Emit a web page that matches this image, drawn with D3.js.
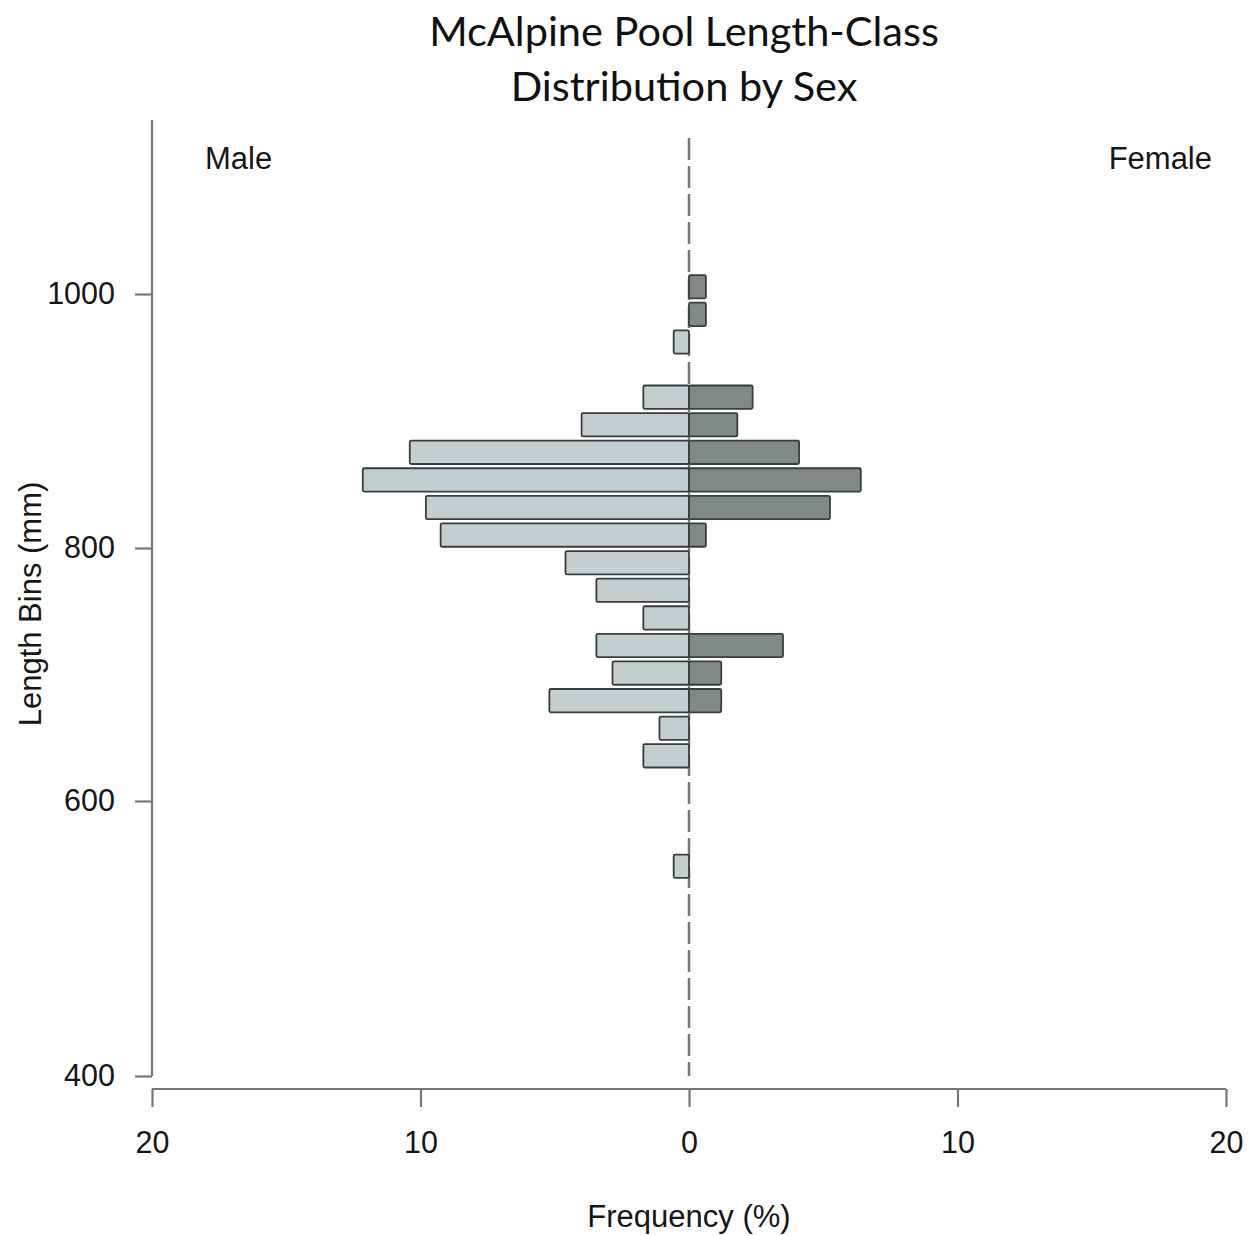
<!DOCTYPE html>
<html>
<head>
<meta charset="utf-8">
<script src="https://cdn.jsdelivr.net/npm/d3@7"></script>
<style>
  body { margin: 0; background: #fff; }
  svg { display: block; }
  .axis text { font-family: "Liberation Sans", Arial, sans-serif; font-size: 30.5px; fill: #161616; }
  .axis path, .axis line { stroke: #777; stroke-width: 2.2px; }
</style>
</head>
<body>
<svg width="1257" height="1236"></svg>
<script>
// length bins (lower bound, mm), top to bottom
var bins = [980, 960, 940, 920, 900, 880, 860, 840, 820, 800, 780,
            760, 740, 720, 700, 680, 660, 640, 620, 600, 580, 560];
// frequency (%) per bin
var male   = [0, 0, 0.57, 0, 1.7, 4.0, 10.4, 12.15, 9.8, 9.25, 4.6,
              3.45, 1.7, 3.45, 2.85, 5.2, 1.1, 1.7, 0, 0, 0, 0.57];
var female = [0.63, 0.63, 0, 0, 2.37, 1.8, 4.1, 6.4, 5.25, 0.63, 0,
              0, 0, 3.5, 1.2, 1.2, 0, 0, 0, 0, 0, 0];
var freqTicks = [-20, -10, 0, 10, 20];
var lengthTicks = [400, 600, 800, 1000];

var svg = d3.select('svg');

var x = d3.scaleLinear().domain([-20, 20]).range([152, 1226]);
// axis labels as printed on the original plot (not evenly spaced)
var yAxisScale = d3.scaleLinear().domain([400, 600, 800, 1000]).range([1076, 801, 548, 294]);
var yBand = d3.scaleBand().domain(bins).range([273, 880]).paddingInner(0.155).paddingOuter(0.077);

// title
var title = svg.append('text')
    .attr('text-anchor', 'middle')
    .style('font-family', 'Lato, "Open Sans", sans-serif')
    .style('font-size', '41.5px')
    .style('fill', '#111');
title.append('tspan').attr('x', 684).attr('y', 46).text('McAlpine Pool Length-Class');
title.append('tspan').attr('x', 684).attr('y', 101).text('Distribution by Sex');

// centre dashed line
svg.append('line')
    .attr('x1', x(0)).attr('x2', x(0))
    .attr('y1', 138).attr('y2', 1076)
    .attr('stroke', '#777')
    .attr('stroke-width', 2.5)
    .attr('stroke-dasharray', '22,6');

var rows = bins.map(function(b, i) {
    return { bin: b, male: male[i], female: female[i] };
});

var barGroup = svg.append('g');

barGroup.selectAll('rect.male')
    .data(rows.filter(function(d) { return d.male > 0; }))
    .enter()
    .append('rect')
    .attr('class', 'male')
    .attr('x', function(d) { return x(-d.male); })
    .attr('y', function(d) { return yBand(d.bin); })
    .attr('width', function(d) { return x(0) - x(-d.male); })
    .attr('height', yBand.bandwidth())
    .attr('rx', 1.5)
    .attr('fill', '#c3cfce')
    .attr('stroke', '#3a3d3c')
    .attr('stroke-width', 1.8);

barGroup.selectAll('rect.female')
    .data(rows.filter(function(d) { return d.female > 0; }))
    .enter()
    .append('rect')
    .attr('class', 'female')
    .attr('x', x(0))
    .attr('y', function(d) { return yBand(d.bin); })
    .attr('width', function(d) { return x(d.female) - x(0); })
    .attr('height', yBand.bandwidth())
    .attr('rx', 1.5)
    .attr('fill', '#808986')
    .attr('stroke', '#3a3d3c')
    .attr('stroke-width', 1.8);

// y axis
var yAxis = svg.append('g')
    .attr('class', 'axis')
    .attr('transform', 'translate(152,0)')
    .call(d3.axisLeft(yAxisScale).tickValues(lengthTicks).tickSize(17).tickSizeOuter(0).tickPadding(20)
        .tickFormat(d3.format('d')));
yAxis.select('.domain').remove();
yAxis.append('line')
    .attr('x1', 0).attr('x2', 0)
    .attr('y1', 120).attr('y2', yAxisScale(400));

// x axis
var xAxis = svg.append('g')
    .attr('class', 'axis')
    .attr('transform', 'translate(0,1089)')
    .call(d3.axisBottom(x).tickValues(freqTicks).tickSize(18).tickSizeOuter(0).tickPadding(24)
        .tickFormat(function(d) { return Math.abs(d); }));
xAxis.select('.domain').attr('d', 'M' + x(-20) + ',0H' + x(20));

// labels
var labelFont = '"Liberation Sans", Arial, sans-serif';
function label(t) {
    return t.style('font-family', labelFont).style('font-size', '31px').style('fill', '#161616');
}
label(svg.append('text')
    .attr('x', 205).attr('y', 169)
    .text('Male'));
label(svg.append('text')
    .attr('x', 1212).attr('y', 169)
    .attr('text-anchor', 'end')
    .text('Female'));
label(svg.append('text')
    .attr('x', 689).attr('y', 1227)
    .attr('text-anchor', 'middle')
    .text('Frequency (%)'));
label(svg.append('text')
    .attr('transform', 'translate(41,604) rotate(-90)')
    .attr('text-anchor', 'middle')
    .text('Length Bins (mm)'));
</script>
</body>
</html>
